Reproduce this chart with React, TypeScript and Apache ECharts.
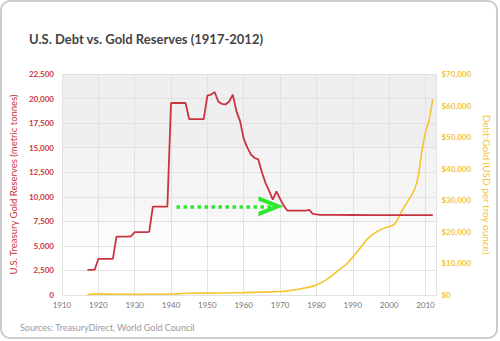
import React, { useEffect, useRef } from "react";
import * as echarts from "echarts";

const goldYears = [
  1917, 1918, 1919, 1920, 1921, 1922, 1923, 1924, 1925, 1926, 1927, 1928, 1929,
  1930, 1931, 1932, 1933, 1934, 1935, 1936, 1937, 1938, 1939, 1940, 1941, 1942,
  1943, 1944, 1945, 1946, 1947, 1948, 1949, 1950, 1951, 1952, 1953, 1954, 1955,
  1956, 1957, 1958, 1959, 1960, 1961, 1962, 1963, 1964, 1965, 1966, 1967, 1968,
  1969, 1970, 1971, 1972, 1973, 1974, 1975, 1976, 1977, 1978, 1979, 1980, 1981,
  1985, 1990, 1995, 2000, 2005, 2010, 2012,
];
const goldTonnes = [
  2550, 2550, 2580, 3670, 3670, 3670, 3670, 3680, 5950, 5950, 5950, 5950, 5980,
  6400, 6400, 6400, 6400, 6420, 9000, 9000, 9000, 9000, 9000, 19550, 19550, 19550,
  19550, 19550, 17900, 17900, 17900, 17900, 17900, 20300, 20400, 20670, 19700, 19450, 19400,
  19700, 20400, 18700, 17700, 15900, 15000, 14300, 13950, 13800, 12500, 11400, 10600, 9700,
  10540, 9800, 9100, 8600, 8600, 8600, 8600, 8600, 8600, 8670, 8260, 8200, 8160,
  8150, 8145, 8140, 8140, 8135, 8135, 8135,
];

const ratioYears = [
  1917, 1920, 1925, 1930, 1935, 1940, 1945, 1950, 1955, 1960, 1965, 1970, 1972,
  1975, 1978, 1980, 1982, 1984, 1986, 1988, 1990, 1992, 1994, 1996, 1998, 2000,
  2001, 2002, 2003, 2004, 2005, 2006, 2007, 2008, 2009, 2010, 2011, 2012,
];
const ratioUsd = [
  150, 350, 250, 200, 250, 300, 550, 600, 650, 750, 900, 1100, 1300,
  1800, 2500, 3200, 4300, 5900, 7800, 9500, 12000, 14800, 17700, 19600, 20900, 21700,
  22000, 23200, 25500, 27600, 29500, 31300, 33500, 37500, 45500, 51500, 55500, 62000,
];

const arrowStart = [1941.5, 9030];
const arrowEnd = [1967.5, 9030];

const RED = "#c9343f";
const YELLOW = "#f5c431";
const GREEN = "#2ee82e";
const FONT = "Lato";

export default function App() {
  const ref = useRef<HTMLDivElement>(null);
  useEffect(() => {
    if (!ref.current) return;
    const chart = echarts.init(ref.current, null, { renderer: "svg" });
    const goldData = goldYears.map((y, i) => [y, goldTonnes[i]]);
    const ratioData = ratioYears.map((y, i) => [y, ratioUsd[i]]);
    chart.setOption({
      animation: false,
      backgroundColor: "#ffffff",
      title: [
        {
          text: "U.S. Debt vs. Gold Reserves (1917-2012)",
          left: 24,
          top: 27,
          textStyle: { fontFamily: FONT, fontSize: 13, fontWeight: "bold", color: "#444444" },
        },
        {
          text: "Sources: TreasuryDirect, World Gold Council",
          left: 15,
          top: 318,
          textStyle: { fontFamily: FONT, fontSize: 9, fontWeight: "normal", color: "#9a9a9a" },
        },
      ],
      graphic: [
        {
          type: "rect",
          silent: true,
          z: -10,
          shape: { x: 1, y: 1, width: 496, height: 337, r: 9 },
          style: { fill: "#ffffff", stroke: "#cccccc", lineWidth: 2 },
        },
      ],
      grid: {
        left: 60,
        right: 57,
        top: 74,
        bottom: 46,
        show: true,
        borderWidth: 0,
        backgroundColor: new echarts.graphic.LinearGradient(0, 0, 0, 1, [
          { offset: 0, color: "#efefef" },
          { offset: 0.33, color: "#efefef" },
          { offset: 0.34, color: "#f3f3f3" },
          { offset: 0.55, color: "#f5f5f5" },
          { offset: 0.66, color: "#f8f8f8" },
          { offset: 0.67, color: "#fbfbfb" },
          { offset: 0.78, color: "#fdfdfd" },
          { offset: 0.79, color: "#ffffff" },
          { offset: 1, color: "#ffffff" },
        ]),
      },
      xAxis: {
        type: "value",
        min: 1910,
        max: 2013,
        interval: 10,
        axisLine: { show: false },
        axisTick: { show: false },
        axisLabel: {
          color: "#777777",
          fontFamily: FONT,
          fontSize: 8,
          margin: 6,
          formatter: (v: number) => (v % 10 === 0 ? String(v) : ""),
        },
        splitLine: { show: true, lineStyle: { color: "#e2e2e2", width: 1 } },
      },
      yAxis: [
        {
          type: "value",
          min: 0,
          max: 22500,
          interval: 2500,
          name: "U.S. Treasury Gold Reserves (metric tonnes)",
          nameLocation: "middle",
          nameGap: 41,
          nameTextStyle: { color: RED, fontFamily: FONT, fontSize: 9.5 },
          axisLine: { show: false },
          axisTick: { show: false },
          axisLabel: {
            color: RED,
            fontFamily: FONT,
            fontSize: 8,
            fontWeight: "bold",
            margin: 8,
            formatter: (v: number) => v.toLocaleString("en-US"),
          },
          splitLine: { show: true, lineStyle: { color: "#e2e2e2", width: 1 } },
        },
        {
          type: "value",
          min: 0,
          max: 70000,
          interval: 10000,
          position: "right",
          name: "Debt:Gold (USD per troy ounce)",
          nameLocation: "middle",
          nameGap: 42,
          nameRotate: -90,
          nameTextStyle: { color: YELLOW, fontFamily: FONT, fontSize: 10 },
          axisLine: { show: false },
          axisTick: { show: false },
          axisLabel: {
            color: YELLOW,
            fontFamily: FONT,
            fontSize: 8,
            fontWeight: "bold",
            margin: 5,
            formatter: (v: number) => "$" + v.toLocaleString("en-US"),
          },
          splitLine: { show: false },
        },
      ],
      series: [
        {
          type: "line",
          name: "Gold",
          yAxisIndex: 0,
          data: goldData,
          showSymbol: false,
          lineStyle: { color: RED, width: 1.8 },
          itemStyle: { color: RED },
          z: 3,
          markLine: {
            silent: true,
            symbol: ["none", "path://M0,24 L10,0 L20,24 L15.5,24 L10,10 L4.5,24 Z"],
            symbolSize: [20, 25],
            label: { show: false },
            lineStyle: { color: GREEN, width: 3.5, type: [3.5, 3.5], cap: "butt" },
            itemStyle: { color: GREEN },
            data: [[{ coord: arrowStart }, { coord: arrowEnd }]],
          },
        },
        {
          type: "line",
          name: "Debt:Gold",
          yAxisIndex: 1,
          data: ratioData,
          showSymbol: false,
          smooth: 0.2,
          lineStyle: { color: YELLOW, width: 1.6 },
          itemStyle: { color: YELLOW },
          z: 2,
        },
      ],
    });
    return () => chart.dispose();
  }, []);
  return (
    <div
      ref={ref}
      style={{ position: "absolute", left: 0, top: 0, width: 500, height: 341 }}
    />
  );
}
